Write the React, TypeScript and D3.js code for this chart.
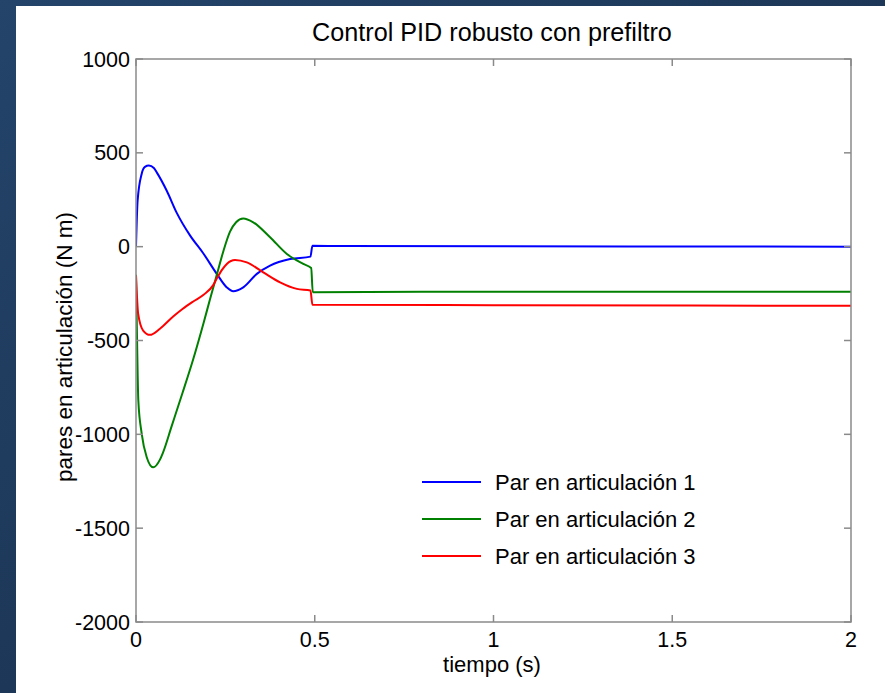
import { curveMonotoneX, line, scaleLinear } from 'd3'

const WIDTH = 885
const HEIGHT = 693
const PLOT = { left: 136, right: 851, top: 59, bottom: 622 }
const FONT = '"Liberation Sans", Arial, Helvetica, sans-serif'

const TITLE = 'Control PID robusto con prefiltro'
const X_LABEL = 'tiempo (s)'
const Y_LABEL = 'pares en articulación (N m)'

const X_TICKS = [0, 0.5, 1, 1.5, 2]
const Y_TICKS = [-2000, -1500, -1000, -500, 0, 500, 1000]

// par articulación 1
const t1 = [0, 0.0045, 0.016, 0.025, 0.036, 0.05, 0.058, 0.086, 0.114, 0.151, 0.188, 0.226, 0.254, 0.272, 0.3, 0.338, 0.375, 0.431, 0.488, 0.4935, 0.58, 2]
const v1 = [0, 245, 389, 425, 432, 419, 396, 298, 180, 60, -35, -145, -217, -238, -217, -145, -101, -66, -53, 5, 3, 0]

// par articulación 2
const t2 = [0, 0.003, 0.0065, 0.016, 0.03, 0.048, 0.067, 0.075, 0.1, 0.13, 0.16, 0.19, 0.207, 0.226, 0.245, 0.263, 0.28, 0.3, 0.328, 0.375, 0.422, 0.468, 0.49, 0.4945, 0.8, 2]
const v2 = [-150, -500, -820, -997, -1122, -1176, -1135, -1100, -955, -780, -600, -400, -280, -150, -20, 80, 130, 150, 130, 50, -39, -92, -114, -243, -240, -240]

// par articulación 3
const t3 = [0, 0.006, 0.02, 0.039, 0.067, 0.104, 0.13, 0.16, 0.19, 0.216, 0.226, 0.24, 0.254, 0.277, 0.31, 0.356, 0.403, 0.45, 0.488, 0.4935, 1, 2]
const v3 = [-154, -357, -447, -470, -437, -372, -332, -292, -255, -205, -170, -125, -92, -71, -84, -137, -190, -225, -234, -309, -312, -315]

const SERIES = [
  { name: 'Par en articulación 1', color: '#0000ff', t: t1, v: v1 },
  { name: 'Par en articulación 2', color: '#008000', t: t2, v: v2 },
  { name: 'Par en articulación 3', color: '#ff0000', t: t3, v: v3 },
]

export default function App() {
  const x = scaleLinear().domain([0, 2]).range([PLOT.left, PLOT.right])
  const y = scaleLinear().domain([-2000, 1000]).range([PLOT.bottom, PLOT.top])

  const pathFor = (t: number[], v: number[]) =>
    line<number>()
      .x((d) => x(d))
      .y((_, i) => y(v[i]))
      .curve(curveMonotoneX)(t) ?? ''

  const tickLen = 7
  const axisColor = '#8a8a8a'

  return (
    <svg
      width={WIDTH}
      height={HEIGHT}
      style={{ position: 'absolute', left: 0, top: 0 }}
      fontFamily={FONT}
    >
      <defs>
        <linearGradient id="bg" x1="0" y1="0" x2="1" y2="1">
          <stop offset="0" stopColor="#24446a" />
          <stop offset="1" stopColor="#152a45" />
        </linearGradient>
        <clipPath id="plot-clip">
          <rect x={PLOT.left} y={PLOT.top} width={PLOT.right - PLOT.left} height={PLOT.bottom - PLOT.top} />
        </clipPath>
      </defs>
      <rect width={WIDTH} height={HEIGHT} fill="url(#bg)" />
      <rect x={16} y={6} width={WIDTH - 16} height={HEIGHT - 6} fill="#ffffff" />

      <text x={492} y={41} textAnchor="middle" fontSize={25.2} fill="#000">
        {TITLE}
      </text>

      <g clipPath="url(#plot-clip)">
        {SERIES.map((s) => (
          <path key={s.name} d={pathFor(s.t, s.v)} fill="none" stroke={s.color} strokeWidth={2} strokeLinejoin="round" />
        ))}
      </g>

      {/* box + ticks */}
      <rect
        x={PLOT.left}
        y={PLOT.top}
        width={PLOT.right - PLOT.left}
        height={PLOT.bottom - PLOT.top}
        fill="none"
        stroke={axisColor}
        strokeWidth={1.5}
      />
      {X_TICKS.map((d) => (
        <g key={`x${d}`}>
          <line x1={x(d)} x2={x(d)} y1={PLOT.bottom} y2={PLOT.bottom - tickLen} stroke={axisColor} strokeWidth={1.5} />
          <line x1={x(d)} x2={x(d)} y1={PLOT.top} y2={PLOT.top + tickLen} stroke={axisColor} strokeWidth={1.5} />
          <text x={x(d)} y={647} textAnchor="middle" fontSize={21.5} fill="#000">
            {d}
          </text>
        </g>
      ))}
      {Y_TICKS.map((d) => (
        <g key={`y${d}`}>
          <line x1={PLOT.left} x2={PLOT.left + tickLen} y1={y(d)} y2={y(d)} stroke={axisColor} strokeWidth={1.5} />
          <line x1={PLOT.right} x2={PLOT.right - tickLen} y1={y(d)} y2={y(d)} stroke={axisColor} strokeWidth={1.5} />
          <text x={130} y={y(d) + 7.5} textAnchor="end" fontSize={21.5} fill="#000">
            {d}
          </text>
        </g>
      ))}

      <text x={492} y={672} textAnchor="middle" fontSize={22} fill="#000">
        {X_LABEL}
      </text>
      <text transform="translate(72,347) rotate(-90)" textAnchor="middle" fontSize={22.5} fill="#000">
        {Y_LABEL}
      </text>

      {SERIES.map((s, i) => {
        const ly = 482 + i * 37
        return (
          <g key={`lg${s.name}`}>
            <line x1={422} x2={481} y1={ly} y2={ly} stroke={s.color} strokeWidth={2} />
            <text x={495} y={ly + 8} fontSize={22} fill="#000">
              {s.name}
            </text>
          </g>
        )
      })}
    </svg>
  )
}
